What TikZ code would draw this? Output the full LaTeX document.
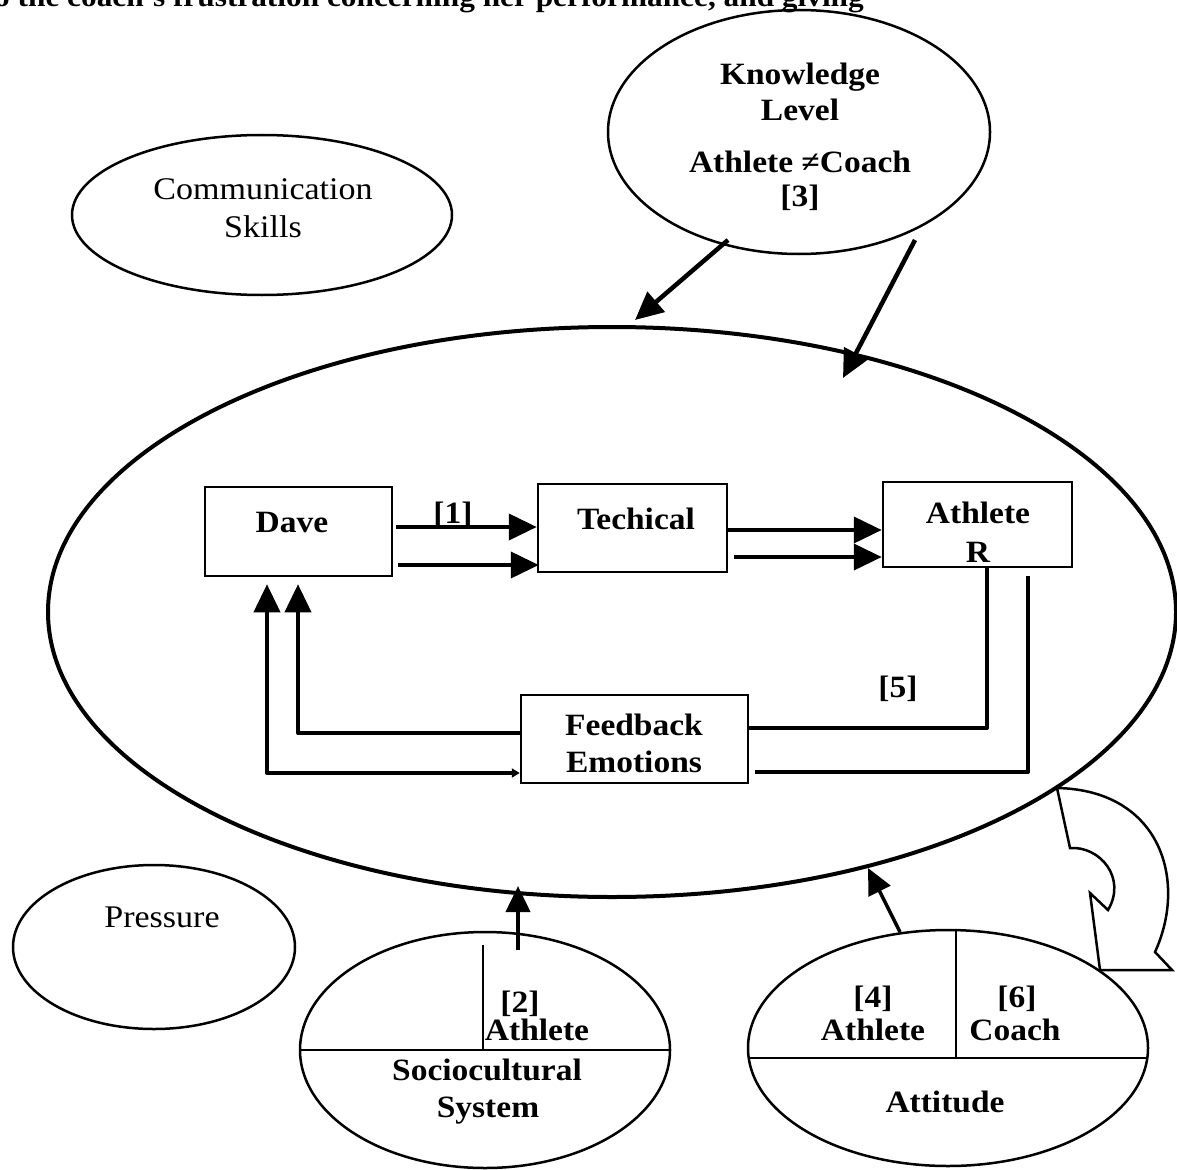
\documentclass[tikz,border=0pt]{standalone}
\usepackage{fontspec}
\setmainfont{Liberation Serif}[FakeStretch=1.08]
\usetikzlibrary{arrows.meta,shapes.geometric,calc}
\tikzset{bigtip/.tip={Triangle[length=28pt,width=26pt]},
         tinytip/.tip={Triangle[length=8pt,width=9pt]}}
\begin{document}
\begin{tikzpicture}[x=1pt,y=-1pt,
  bl/.style={font=\fontsize{31}{36}\selectfont\bfseries, inner sep=0pt, anchor=base},
  rg/.style={font=\fontsize{31.5}{36}\selectfont, inner sep=0pt, anchor=base},
  oval/.style={draw, ellipse, line width=2.5pt, inner sep=0pt},
  boxn/.style={draw, rectangle, line width=2.5pt, inner sep=0pt},
  bigarr/.style={line width=4.5pt, -bigtip},
  flow/.style={line width=4pt}
]
\useasboundingbox (0,0) rectangle (1177,1169);

% top cut-off text line
\node[anchor=base west, inner sep=0pt, font=\fontsize{29}{34}\selectfont\bfseries] (toptext) at (-6,7)
  {o the coach's frustration concerning her performance, and giving};

% ellipses
\node[draw, ellipse, line width=4pt, inner sep=0pt, minimum width=1128, minimum height=570] (main) at (612,612) {};
\node[oval, minimum width=382, minimum height=244] (know) at (799,132) {};
\node[oval, minimum width=380, minimum height=160] (comm) at (262,215) {};
\node[oval, minimum width=282, minimum height=164] (press) at (154,947) {};
\node[oval, minimum width=370, minimum height=236] (socio) at (485,1050) {};
\node[oval, minimum width=400, minimum height=236] (att) at (948,1048) {};

% ellipse texts
\node[bl] (k1t) at (800,85) {Knowledge};
\node[bl] (k2t) at (800,121) {Level};
\node[bl] (k3t) at (800,173) {Athlete ≠Coach};
\node[bl] (k4t) at (800,207) {[3]};
\node[rg] (c1t) at (263,200) {Communication};
\node[rg] (c2t) at (263,237) {Skills};
\node[rg] (pt) at (162,927) {Pressure};
\node[bl] (s1t) at (520,1012) {[2]};
\node[bl] (s2t) at (537,1040) {Athlete};
\node[bl] (s3t) at (487,1080) {Sociocultural};
\node[bl] (s4t) at (488,1117) {System};
\node[bl] (a1t) at (873,1007) {[4]};
\node[bl] (a2t) at (873,1040) {Athlete};
\node[bl] (a3t) at (1017,1007) {[6]};
\node[bl] (a4t) at (1015,1040) {Coach};
\node[bl] (a5t) at (945,1112) {Attitude};

% dividing lines
\draw[line width=2.5pt] (socio.west) -- (socio.east);
\draw[line width=2.5pt] ($(socio.center)+(-2,-105)$) -- ($(socio.center)+(-2,0)$);
\draw[line width=2.5pt] ($(att.center)+(-199,10)$) -- ($(att.center)+(199,10)$);
\draw[line width=2.5pt] ($(att.north)+(8,0)$) -- ($(att.center)+(8,10)$);

% boxes
\node[boxn, minimum width=187, minimum height=89] (dave) at (298.5,531.5) {};
\node[boxn, minimum width=189, minimum height=88] (tech) at (632.5,528) {};
\node[boxn, minimum width=189, minimum height=85] (ath) at (977.5,524.5) {};
\node[boxn, minimum width=227, minimum height=88] (feed) at (634.5,739) {};
\node[bl] (daveT) at (292,532) {Dave};
\node[bl] (techT) at (636,529) {Techical};
\node[bl] (athT1) at (978,523) {Athlete};
\node[bl] (athT2) at (978,562) {R};
\node[bl] (feedT1) at (634,735) {Feedback};
\node[bl] (feedT2) at (634,772) {Emotions};
\node[bl] (l1) at (453,523) {[1]};
\node[bl] (l5) at (898,697) {[5]};

% arrows between boxes
\draw[flow, -bigtip] ($(dave.east)+(3,-4.5)$) -- ($(tech.west)+(0,-1)$);
\draw[flow, -bigtip] ($(dave.east)+(5,33.5)$) -- ($(tech.west)+(2,37)$);
\draw[flow, -bigtip] ($(tech.east)+(0,2)$) -- ($(ath.west)+(0,5.5)$);
\draw[flow, -bigtip] ($(tech.east)+(6,29)$) -- ($(ath.west)+(0,32.5)$);

% feedback loop lines
\draw[flow, line join=round] ($(ath.south)+(9.5,0)$) |- ($(feed.east)+(0,-11)$);
\draw[flow, line join=round] ($(ath.south)+(50.5,8)$) |- ($(feed.east)+(6,33)$);
\draw[flow, line join=round, -bigtip] ($(feed.west)+(0,-6)$) -| ($(dave.south)+(-0.5,7)$);
\draw[flow, line join=round, tinytip-bigtip] ($(feed.west)+(0,34)$) -| ($(dave.south)+(-31.5,7)$);

% arrows from Knowledge to main ellipse
\coordinate (kA) at (728,240);
\coordinate (mA) at (635,320);
\coordinate (kB) at (915,240);
\coordinate (mB) at (843,378);
\draw[bigarr] (kA) -- (mA);
\draw[bigarr] (kB) -- (mB);

% arrows from bottom ellipses to main ellipse
\coordinate (sA) at (518,950);
\coordinate (mS) at (518,886);
\coordinate (aA) at (900,932);
\coordinate (mT) at (868,868);
\draw[line width=4pt, -{Triangle[length=26pt,width=24pt]}] (sA) -- (mS);
\draw[line width=3.5pt, -{Triangle[length=26pt,width=24pt]}] (aA) -- (mT);

% curved return arrow shape
\draw[line width=2.5pt, line join=miter] (1057,788) -- (1070,848)
  .. controls (1100,846) and (1127,878) .. (1108,910)
  -- (1090,893) -- (1100,970) -- (1172,970) -- (1155,952)
  .. controls (1188,880) and (1160,790) .. (1057,788) -- cycle;
\end{tikzpicture}
\end{document}
